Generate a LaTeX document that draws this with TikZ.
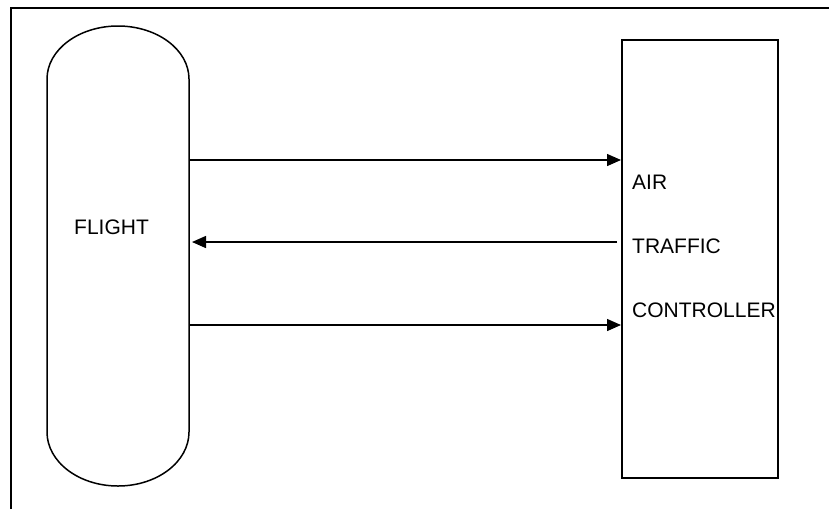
\documentclass[tikz,border=0pt]{standalone}
\usepackage{fontspec}
\setmainfont{Liberation Sans}
\usetikzlibrary{arrows.meta}
\begin{document}
\begin{tikzpicture}[x=1pt,y=-1pt,
  lbl/.style={inner sep=0pt,anchor=base west,font=\fontsize{21}{21}\selectfont},
  conn/.style={line width=1.4pt,-{Triangle[length=14pt,width=12pt]}},
  shapeline/.style={line width=1.5pt}]
\useasboundingbox (0,0) rectangle (829,509);
% outer frame (left and top edges only)
\draw[line width=2.6pt] (11,509) -- (11,8) -- (829,8);
% flight capsule
\node[inner sep=0pt,minimum width=142pt,minimum height=460pt] (flight) at (118,256) {};
\draw[shapeline] (47,79) arc[start angle=180,end angle=360,x radius=71,y radius=53] -- (189,432)
  arc[start angle=0,end angle=180,x radius=71,y radius=54] -- cycle;
\node[lbl] (flt) at (74,234) {FLIGHT};
% controller box
\node[draw,line width=2pt,inner sep=0pt,minimum width=156pt,minimum height=438pt] (atc) at (700,259) {};
\node[lbl] (air) at (632,189) {AIR};
\node[lbl] (trf) at (632,253) {TRAFFIC};
\node[lbl] (ctl) at (632,317) {CONTROLLER};
% connectors
\coordinate (a1s) at (189,160);
\coordinate (a2e) at (192,242);
\coordinate (a3s) at (189,325);
\draw[conn] (a1s) -- (atc.west |- a1s);
\draw[conn] ([xshift=-4pt]atc.west |- a2e) -- (a2e);
\draw[conn] (a3s) -- (atc.west |- a3s);
\end{tikzpicture}
\end{document}
